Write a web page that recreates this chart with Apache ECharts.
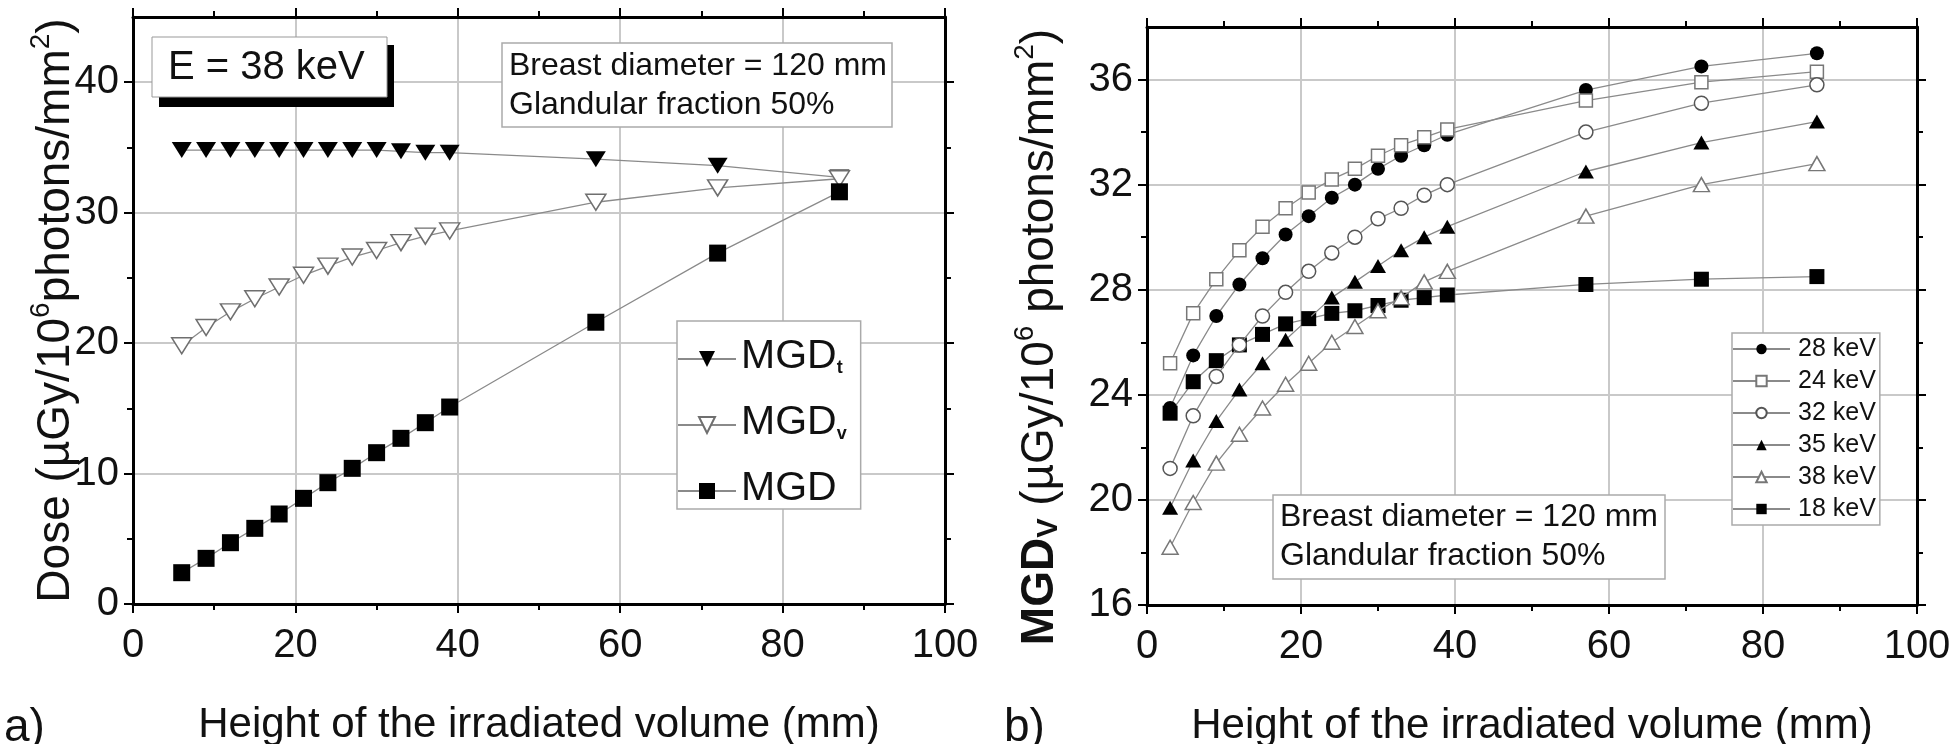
<!DOCTYPE html>
<html><head><meta charset="utf-8">
<script src="https://cdn.jsdelivr.net/npm/echarts@6/dist/echarts.min.js"></script>
<style>html,body{margin:0;padding:0;background:#fff}#c{width:1957px;height:744px}</style>
</head><body><div id="c"></div>
<script>
// ---------- data ----------
const heightA = [6, 9, 12, 15, 18, 21, 24, 27, 30, 33, 36, 39, 57, 72, 87];
const mgdT = [34.8, 34.8, 34.8, 34.8, 34.8, 34.8, 34.8, 34.8, 34.8, 34.7, 34.6, 34.6, 34.1, 33.6, 32.7];
const mgdV = [19.8, 21.2, 22.4, 23.4, 24.3, 25.2, 25.9, 26.6, 27.1, 27.7, 28.2, 28.6, 30.8, 31.9, 32.6];
const mgd  = [2.4, 3.5, 4.7, 5.8, 6.9, 8.1, 9.3, 10.4, 11.6, 12.7, 13.9, 15.1, 21.6, 26.9, 31.6];

const heightB = [3, 6, 9, 12, 15, 18, 21, 24, 27, 30, 33, 36, 39, 57, 72, 87];
const kev28 = [23.5, 25.5, 27.0, 28.2, 29.2, 30.1, 30.8, 31.5, 32.0, 32.6, 33.1, 33.5, 33.9, 35.6, 36.5, 37.0];
const kev24 = [25.2, 27.1, 28.4, 29.5, 30.4, 31.1, 31.7, 32.2, 32.6, 33.1, 33.5, 33.8, 34.1, 35.2, 35.9, 36.3];
const kev32 = [21.2, 23.2, 24.7, 25.9, 27.0, 27.9, 28.7, 29.4, 30.0, 30.7, 31.1, 31.6, 32.0, 34.0, 35.1, 35.8];
const kev35 = [19.7, 21.5, 23.0, 24.2, 25.2, 26.1, 26.9, 27.7, 28.3, 28.9, 29.5, 30.0, 30.4, 32.5, 33.6, 34.4];
const kev38 = [18.2, 19.9, 21.4, 22.5, 23.5, 24.4, 25.2, 26.0, 26.6, 27.2, 27.7, 28.3, 28.7, 30.8, 32.0, 32.8];
const kev18 = [23.3, 24.5, 25.3, 25.9, 26.3, 26.7, 26.9, 27.1, 27.2, 27.4, 27.6, 27.7, 27.8, 28.2, 28.4, 28.5];

const yTicksA = [0, 10, 20, 30, 40];
const yMinorA = [5, 15, 25, 35];
const yTicksB = [16, 20, 24, 28, 32, 36];
const yMinorB = [18, 22, 26, 30, 34];

// ---------- style ----------
const FONT = '"Liberation Sans", Arial, sans-serif';
const TXT = '#111';
const LINE = '#8a8a8a';
const GRID = '#c9c9c9';

function pairs(xs, ys) { return xs.map((x, i) => [x, ys[i]]); }

function xAxisMain(gi, name) {
  return {
    type: 'value', gridIndex: gi, position: 'bottom', min: 0, max: 100, interval: 20,
    axisLine: { show: true, onZero: false, lineStyle: { color: '#000', width: 3 } },
    axisTick: { show: true, length: 9, lineStyle: { color: '#000', width: 2 } },
    minorTick: { show: true, splitNumber: 2, length: 6, lineStyle: { color: '#000', width: 2 } },
    axisLabel: { fontSize: 40, color: TXT, fontFamily: FONT, margin: 22 },
    splitLine: { show: true, lineStyle: { color: GRID, width: 2 } },
    name: name, nameLocation: 'middle', nameGap: 100, nameMoveOverlap: false,
    nameTextStyle: { fontSize: 42, color: TXT, fontFamily: FONT }
  };
}
function xAxisTop(gi) {
  return {
    type: 'value', gridIndex: gi, position: 'top', min: 0, max: 100, interval: 20,
    axisLine: { show: true, onZero: false, lineStyle: { color: '#000', width: 3 } },
    axisTick: { show: true, length: 9, lineStyle: { color: '#000', width: 2 } },
    minorTick: { show: true, splitNumber: 2, length: 6, lineStyle: { color: '#000', width: 2 } },
    axisLabel: { show: false }, splitLine: { show: false }
  };
}
function yAxisMajor(gi, pos, min, max, itv, ticks, withLabel, name, nameGap, pad, fs) {
  const ax = {
    type: 'value', gridIndex: gi, position: pos, min: min, max: max, interval: itv,
    axisLine: { show: true, onZero: false, lineStyle: { color: '#000', width: 3 } },
    axisTick: { show: true, length: 9, customValues: ticks, lineStyle: { color: '#000', width: 2 } },
    axisLabel: { show: withLabel, customValues: ticks, fontSize: 40, color: TXT, fontFamily: FONT, margin: 14 },
    splitLine: { show: withLabel, lineStyle: { color: GRID, width: 2 } }
  };
  if (name) {
    const lh = Math.round(fs * 1.12);
    ax.name = name; ax.nameLocation = 'middle'; ax.nameGap = nameGap; ax.nameRotate = 90;
    ax.nameMoveOverlap = false;
    ax.nameTextStyle = {
      color: TXT, fontFamily: FONT, padding: pad,
      rich: {
        a: { fontSize: fs, lineHeight: lh, verticalAlign: 'bottom', color: TXT, fontFamily: FONT },
        b: { fontSize: fs, lineHeight: lh, verticalAlign: 'bottom', fontWeight: 'bold', color: TXT, fontFamily: FONT },
        p: { fontSize: Math.round(fs * 0.6), lineHeight: Math.round(fs * 0.6), verticalAlign: 'top', color: TXT, fontFamily: FONT },
        s: { fontSize: Math.round(fs * 0.64), lineHeight: Math.round(fs * 0.64), verticalAlign: 'bottom', fontWeight: 'bold', color: TXT, fontFamily: FONT }
      }
    };
  }
  return ax;
}
function yAxisMinor(gi, pos, min, max, itv, ticks) {
  return {
    type: 'value', gridIndex: gi, position: pos, min: min, max: max, interval: itv,
    axisLine: { show: false, onZero: false },
    axisTick: { show: true, length: 6, customValues: ticks, lineStyle: { color: '#000', width: 2 } },
    axisLabel: { show: false }, splitLine: { show: false }
  };
}

function lineSeries(name, xi, yi, data, symbol, size, fill, stroke, rot, z) {
  return {
    type: 'line', name: name, xAxisIndex: xi, yAxisIndex: yi, data: data,
    symbol: symbol, symbolSize: size, symbolRotate: rot || 0, showAllSymbol: true,
    itemStyle: { color: fill, borderColor: stroke, borderWidth: fill === '#fff' ? 1.5 : 0 },
    lineStyle: { color: LINE, width: 1.3 },
    emphasis: { disabled: true }, z: z || 2
  };
}

const chart = echarts.init(document.getElementById('c'), null, { renderer: 'canvas' });

const option = {
  animation: false,
  backgroundColor: '#fff',
  textStyle: { fontFamily: FONT },
  grid: [
    { left: 133, top: 17, width: 812, height: 587, outerBoundsMode: 'none', containLabel: false },
    { left: 1147, top: 27, width: 770, height: 578, outerBoundsMode: 'none', containLabel: false }
  ],
  xAxis: [
    xAxisMain(0, 'Height of the irradiated volume (mm)'),
    xAxisTop(0),
    xAxisMain(1, 'Height of the irradiated volume (mm)'),
    xAxisTop(1)
  ],
  yAxis: [
    yAxisMajor(0, 'left', 0, 45, 5, yTicksA, true,
      '{a|Dose (µGy/10}{p|6}{a|photons/mm}{p|2}{a|)}', 54, [0, 0, 0, 0], 46),
    yAxisMinor(0, 'left', 0, 45, 5, yMinorA),
    yAxisMajor(0, 'right', 0, 45, 5, yTicksA, false),
    yAxisMinor(0, 'right', 0, 45, 5, yMinorA),
    yAxisMajor(1, 'left', 16, 38, 2, yTicksB, true,
      '{b|MGD}{s|V}{a| (µGy/10}{p|6}{a| photons/mm}{p|2}{a|)}', 84, [0, 42, 0, 0], 46),
    yAxisMinor(1, 'left', 16, 38, 2, yMinorB),
    yAxisMajor(1, 'right', 16, 38, 2, yTicksB, false),
    yAxisMinor(1, 'right', 16, 38, 2, yMinorB)
  ],
  legend: [
    {
      orient: 'vertical', left: 677, top: 321, data: ['MGDt', 'MGDv', 'MGD'],
      itemWidth: 58, itemHeight: 20, itemGap: 25,
      padding: [15, 14, 0, 0], borderColor: '#aaa', borderWidth: 1.5, backgroundColor: '#fff',
      selectedMode: false,
      formatter: function (n) {
        if (n === 'MGDt') return '{m|MGD}{s|t}';
        if (n === 'MGDv') return '{m|MGD}{s|v}';
        return '{m|MGD}{s| }';
      },
      textStyle: {
        color: TXT, fontFamily: FONT,
        rich: {
          m: { fontSize: 41, lineHeight: 36, verticalAlign: 'bottom', color: TXT, fontFamily: FONT },
          s: { fontSize: 18, lineHeight: 4, verticalAlign: 'bottom', color: TXT, fontFamily: FONT, fontWeight: 'bold' }
        }
      }
    },
    {
      orient: 'vertical', left: 1732, top: 333,
      data: ['28 keV', '24 keV', '32 keV', '35 keV', '38 keV', '18 keV'],
      itemWidth: 57, itemHeight: 13, itemGap: 6,
      padding: [3, 4, 3, 0], borderColor: '#aaa', borderWidth: 1.5, backgroundColor: '#fff',
      selectedMode: false,
      textStyle: { fontSize: 25, lineHeight: 26, color: TXT, fontFamily: FONT, padding: [0, 0, 0, 3] }
    }
  ],
  series: [
    lineSeries('MGDt', 0, 0, pairs(heightA, mgdT), 'triangle', [20, 16], '#000', '#000', 180),
    lineSeries('MGDv', 0, 0, pairs(heightA, mgdV), 'triangle', [20, 16], '#fff', '#6f6f6f', 180),
    lineSeries('MGD', 0, 0, pairs(heightA, mgd), 'rect', 17, '#000', '#000'),

    lineSeries('18 keV', 2, 4, pairs(heightB, kev18), 'rect', 15, '#000', '#000', 0, 2),
    lineSeries('28 keV', 2, 4, pairs(heightB, kev28), 'circle', 14, '#000', '#000', 0, 3),
    lineSeries('24 keV', 2, 4, pairs(heightB, kev24), 'rect', 13, '#fff', '#777', 0, 3),
    lineSeries('32 keV', 2, 4, pairs(heightB, kev32), 'circle', 14, '#fff', '#555', 0, 3),
    lineSeries('35 keV', 2, 4, pairs(heightB, kev35), 'triangle', [16, 14], '#000', '#000', 0, 3),
    lineSeries('38 keV', 2, 4, pairs(heightB, kev38), 'triangle', [16, 14], '#fff', '#777', 0, 3)
  ],
  graphic: [
    { type: 'rect', x: 159, y: 45, shape: { width: 235, height: 62 }, style: { fill: '#000' }, z: 10 },
    { type: 'rect', x: 152, y: 37, shape: { width: 235, height: 60 }, style: { fill: '#fff', stroke: '#999', lineWidth: 1 }, z: 11 },
    { type: 'text', x: 168, y: 68, z: 12, style: { text: 'E = 38 keV', fontSize: 40, fontFamily: FONT, fill: TXT, verticalAlign: 'middle' } },

    { type: 'rect', x: 502, y: 43, shape: { width: 390, height: 84 }, style: { fill: '#fff', stroke: '#aaa', lineWidth: 1.5 }, z: 11 },
    { type: 'text', x: 509, y: 66, z: 12, style: { text: 'Breast diameter = 120 mm', fontSize: 32, fontFamily: FONT, fill: TXT, verticalAlign: 'middle' } },
    { type: 'text', x: 509, y: 105, z: 12, style: { text: 'Glandular fraction 50%', fontSize: 32, fontFamily: FONT, fill: TXT, verticalAlign: 'middle' } },

    { type: 'rect', x: 1273, y: 495, shape: { width: 392, height: 84 }, style: { fill: '#fff', stroke: '#aaa', lineWidth: 1.5 }, z: 11 },
    { type: 'text', x: 1280, y: 517, z: 12, style: { text: 'Breast diameter = 120 mm', fontSize: 32, fontFamily: FONT, fill: TXT, verticalAlign: 'middle' } },
    { type: 'text', x: 1280, y: 556, z: 12, style: { text: 'Glandular fraction 50%', fontSize: 32, fontFamily: FONT, fill: TXT, verticalAlign: 'middle' } },

    { type: 'text', x: 4, y: 728, z: 12, style: { text: 'a)', fontSize: 46, fontFamily: FONT, fill: TXT, verticalAlign: 'middle' } },
    { type: 'text', x: 1004, y: 728, z: 12, style: { text: 'b)', fontSize: 46, fontFamily: FONT, fill: TXT, verticalAlign: 'middle' } }
  ]
};
chart.setOption(option);
</script>
</body></html>
